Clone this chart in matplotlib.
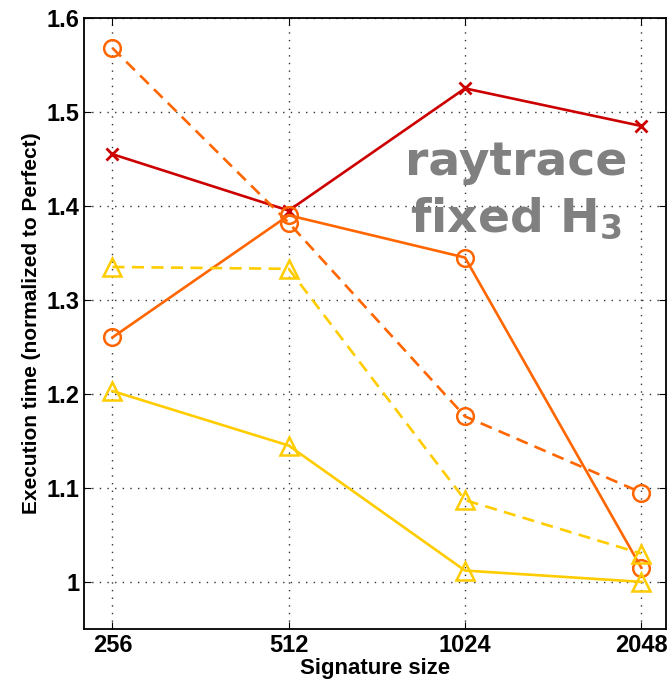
import numpy as np
import matplotlib
matplotlib.use('Agg')
import matplotlib.pyplot as plt

plt.rcParams['font.family'] = ['Liberation Sans', 'DejaVu Sans']

sizes = ['256', '512', '1024', '2048']
red_x = [1.455, 1.395, 1.525, 1.485]
orange_solid = [1.26, 1.39, 1.345, 1.015]
orange_dash = [1.568, 1.382, 1.176, 1.095]
yellow_dash = [1.335, 1.333, 1.087, 1.03]
yellow_solid = [1.203, 1.145, 1.012, 1.0]

red = '#CC0000'
orange = '#FF6600'
yellow = '#FFCC00'

x = np.arange(len(sizes))

fig = plt.figure(figsize=(6.68, 6.88), dpi=100)
ax = fig.add_axes([0.126, 0.086, 0.871, 0.888])

lw = 1.9
ax.plot(x, red_x, color=red, lw=lw, marker='x', ms=9, mew=2)
ax.plot(x, orange_solid, color=orange, lw=lw, marker='o', ms=12, mew=1.8, mfc='none')
ax.plot(x, orange_dash, color=orange, lw=lw, ls='--', dashes=(4.6, 2.8),
        marker='o', ms=12, mew=1.8, mfc='none')
ax.plot(x, yellow_dash, color=yellow, lw=lw, ls='--', dashes=(4.6, 2.8),
        marker='^', ms=13, mew=1.8, mfc='none')
ax.plot(x, yellow_solid, color=yellow, lw=lw, marker='^', ms=13, mew=1.8, mfc='none')

ax.set_xlim(-0.16, 3.14)
ax.set_ylim(0.95, 1.6)
ax.set_xticks(x)
ax.set_xticklabels(sizes)
ax.set_yticks([1.0, 1.1, 1.2, 1.3, 1.4, 1.5, 1.6])
ax.set_yticklabels(['1', '1.1', '1.2', '1.3', '1.4', '1.5', '1.6'])
ax.grid(True, color='#333333', ls=(0, (1, 4.5)), lw=1)
ax.tick_params(direction='in', top=True, right=True, length=5, labelsize=17)
for lab in ax.get_xticklabels() + ax.get_yticklabels():
    lab.set_fontweight('bold')
for s in ax.spines.values():
    s.set_linewidth(1.3)

ax.set_xlabel('Signature size', fontsize=16, fontweight='bold', labelpad=1)
ax.set_ylabel('Execution time (normalized to Perfect)', fontsize=15, fontweight='bold', labelpad=4)

ax.text(0.742, 0.743, 'raytrace', transform=ax.transAxes, ha='center', va='baseline',
        fontsize=34, fontweight='bold', color='#808080', family='DejaVu Sans')
ax.text(0.742, 0.650, 'fixed H$_\\mathbf{3}$', transform=ax.transAxes, ha='center', va='baseline',
        fontsize=34, fontweight='bold', color='#808080', family='DejaVu Sans')

fig.savefig('out.png', dpi=100)
